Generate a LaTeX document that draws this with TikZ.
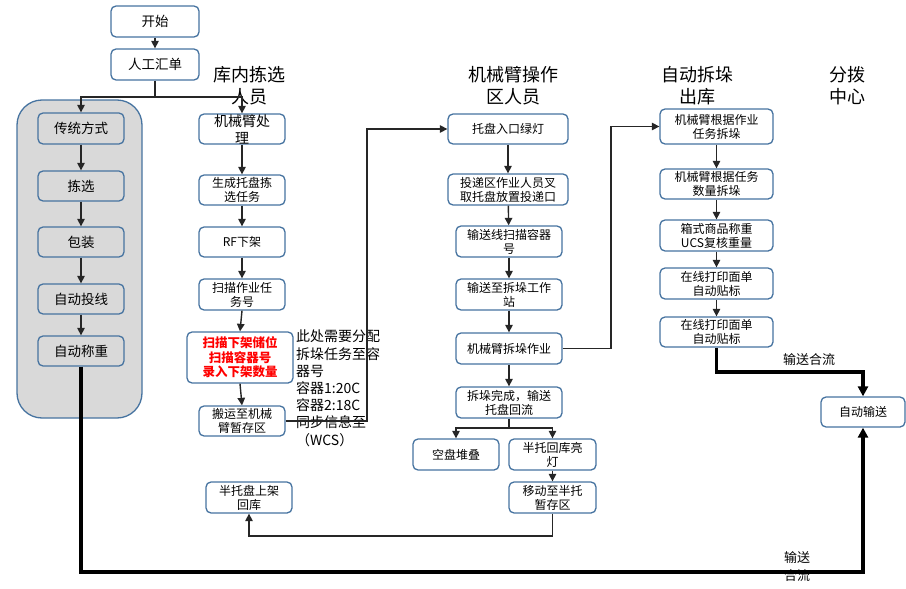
\documentclass[tikz,border=0pt]{standalone}
\usepackage{fontspec}
\setmainfont{Noto Sans CJK SC}
\usetikzlibrary{arrows.meta}
\definecolor{bordc}{RGB}{70,115,160}
\definecolor{grayf}{RGB}{217,217,217}
\definecolor{linec}{RGB}{38,38,38}
\tikzset{
  bx/.style={draw=bordc, line width=1.3pt, rounded corners=5pt, fill=white, align=center, inner sep=0pt, font=\fontsize{12}{14}\selectfont},
  gbx/.style={bx, fill=grayf, font=\fontsize{13.5}{16}\selectfont},
  conn/.style={draw=linec, line width=1.4pt, -{Triangle[length=7.5pt,width=7.5pt]}},
  plain/.style={draw=linec, line width=1.4pt},
  thick conn/.style={draw=black, line width=3.3pt, -{Triangle[length=10pt,width=10pt]}},
  hdr/.style={align=center, inner sep=0pt, font=\fontsize{18}{22}\selectfont},
  lbl/.style={align=center, inner sep=0pt, font=\fontsize{13}{18}\selectfont},
}
\begin{document}
\begin{tikzpicture}[x=1pt,y=-1pt]
\useasboundingbox (0,0) rectangle (906,589);
% container
\node[draw=bordc, line width=1.3pt, fill=grayf, rounded corners=25pt, minimum width=125pt, minimum height=318pt, inner sep=0pt] (cont) at (79.5,259) {};
% top
\node[bx, font=\fontsize{13.5}{16}\selectfont, minimum width=88pt, minimum height=31pt] (start) at (155,21.5) {开始};
\node[bx, font=\fontsize{13.5}{16}\selectfont, minimum width=88pt, minimum height=31pt] (sum) at (155,64.5) {人工汇单};
% left column
\node[gbx, minimum width=86pt, minimum height=31pt] (trad) at (81,128.5) {传统方式};
\node[gbx, minimum width=86pt, minimum height=30pt] (pick) at (81,186) {拣选};
\node[gbx, minimum width=86pt, minimum height=30pt] (pack) at (81,242) {包装};
\node[gbx, minimum width=86pt, minimum height=30pt] (feed) at (81,299) {自动投线};
\node[gbx, minimum width=86pt, minimum height=30pt] (weigh) at (81,351) {自动称重};
% column 2
\node[bx, font=\fontsize{14}{17}\selectfont, minimum width=86pt, minimum height=30pt] (arm) at (242,129) {机械臂处\\理};
\node[bx, minimum width=86pt, minimum height=30pt] (gen) at (242,190) {生成托盘拣\\选任务};
\node[bx, minimum width=86pt, minimum height=30pt] (rf) at (242,242) {RF下架};
\node[bx, minimum width=86pt, minimum height=31pt] (scan) at (242,294.5) {扫描作业任\\务号};
\node[bx, minimum width=106pt, minimum height=51pt, text=red, font=\fontsize{12.5}{14.5}\selectfont\bfseries] (red) at (240,357.5) {扫描下架储位\\扫描容器号\\录入下架数量};
\node[bx, minimum width=86pt, minimum height=30pt] (carry) at (242,421) {搬运至机械\\臂暂存区};
\node[bx, minimum width=86pt, minimum height=31pt] (half) at (249,497.5) {半托盘上架\\回库};
% note
\node[anchor=north west, align=left, inner sep=0pt, font=\fontsize{14}{17.2}\selectfont] (note) at (296,330) {此处需要分配\\拆垛任务至容\\器号\\容器1:20C\\容器2:18C\\同步信息至\\（WCS）};
% column 3
\node[bx, minimum width=120pt, minimum height=30pt] (green) at (508,129) {托盘入口绿灯};
\node[bx, minimum width=120pt, minimum height=31pt] (deliv) at (508,189.5) {投递区作业人员叉\\取托盘放置投递口};
\node[bx, minimum width=106pt, minimum height=31pt] (line) at (509,241.5) {输送线扫描容器\\号};
\node[bx, minimum width=106pt, minimum height=31pt] (tost) at (509,294.5) {输送至拆垛工作\\站};
\node[bx, minimum width=106pt, minimum height=31pt] (depal) at (509,348.5) {机械臂拆垛作业};
\node[bx, minimum width=106pt, minimum height=31pt] (done) at (509,402.5) {拆垛完成，输送\\托盘回流};
\node[bx, minimum width=86pt, minimum height=31pt] (empty) at (456,454.5) {空盘堆叠};
\node[bx, minimum width=87pt, minimum height=31pt] (halfl) at (552.5,454.5) {半托回库亮\\灯};
\node[bx, minimum width=87pt, minimum height=31pt] (move) at (552.5,497.5) {移动至半托\\暂存区};
% column 4
\node[bx, minimum width=113pt, minimum height=35pt] (a1) at (716.5,126.5) {机械臂根据作业\\任务拆垛};
\node[bx, minimum width=113pt, minimum height=30pt] (a2) at (716.5,184) {机械臂根据任务\\数量拆垛};
\node[bx, minimum width=113pt, minimum height=31pt] (a3) at (716.5,235.5) {箱式商品称重\\UCS复核重量};
\node[bx, minimum width=113pt, minimum height=31pt] (a4) at (716.5,283.5) {在线打印面单\\自动贴标};
\node[bx, minimum width=113pt, minimum height=30pt] (a5) at (716.5,332) {在线打印面单\\自动贴标};
\node[bx, minimum width=84pt, minimum height=30pt] (auto) at (863,412) {自动输送};
% headers
\node[hdr] (h1) at (249,86) {库内拣选\\人员};
\node[hdr] (h2) at (513,86) {机械臂操作\\区人员};
\node[hdr] (h3) at (697,86) {自动拆垛\\出库};
\node[hdr] (h4) at (847,86) {分拨\\中心};
% labels
\node[lbl] (l1) at (809,360) {输送合流};
\node[lbl] (l2) at (797,567) {输送\\合流};
% coordinates
\coordinate (split) at (155,97);
\coordinate (c1) at (367,200);
\coordinate (c2) at (611,200);
\coordinate (c3) at (863,372);
\coordinate (c4) at (863,572);
\coordinate (c5) at (552.5,536);
\coordinate (c6) at (509,428);
% connectors
\draw[conn] (start) -- (sum);
\draw[plain] (sum.south) -- (split);
\draw[conn] (split) -| (trad.north);
\draw[conn] (split) -| (arm.north);
\draw[conn] (trad) -- (pick);
\draw[conn] (pick) -- (pack);
\draw[conn] (pack) -- (feed);
\draw[conn] (feed) -- (weigh);
\draw[conn] (arm) -- (gen);
\draw[conn] (gen) -- (rf);
\draw[conn] (rf) -- (scan);
\draw[conn] (scan.south) -- (red.north);
\draw[conn] (red.south) -- (carry.north);
\draw[conn] (carry.east) -| (c1) |- (green.west);
\draw[conn] (green) -- (deliv);
\draw[conn] (deliv) -- (line);
\draw[conn] (line) -- (tost);
\draw[conn] (tost) -- (depal);
\draw[conn] (depal) -- (done);
\draw[conn] (depal.east) -| (c2) |- (a1.west);
\draw[plain] (done.south) -- (c6);
\draw[conn] (c6) -| (empty.north);
\draw[conn] (c6) -| (halfl.north);
\draw[conn] (halfl) -- (move);
\draw[plain] (move.south) -- (c5);
\draw[conn] (c5) -| (half.south);
\draw[conn] (a1) -- (a2);
\draw[conn] (a2) -- (a3);
\draw[conn] (a3) -- (a4);
\draw[conn] (a4) -- (a5);
\draw[thick conn] (a5.south) |- (c3) -- (auto.north);
\draw[thick conn] (weigh.south) |- (c4) -- (auto.south);
\end{tikzpicture}
\end{document}
